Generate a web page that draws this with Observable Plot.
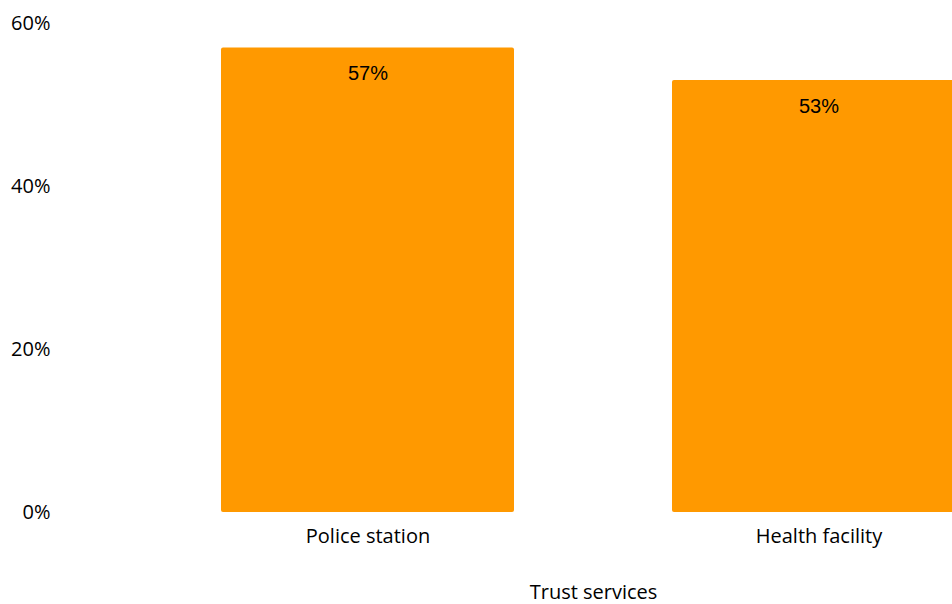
<!DOCTYPE html>
<html>
<head>
<meta charset="utf-8">
<script src="https://cdn.jsdelivr.net/npm/d3@7"></script>
<script src="https://cdn.jsdelivr.net/npm/@observablehq/plot@0.6"></script>
<style>
  html, body { margin: 0; padding: 0; background: #fff; overflow: hidden; width: 952px; height: 604px; }
  #chart { width: 952px; height: 604px; overflow: hidden; }
  #chart svg { max-width: none !important; width: 1124px; height: 604px; display: block; }
</style>
</head>
<body>
<div id="chart"></div>
<script>
const categories = ["Police station", "Health facility"];
const values = [57, 53];
const yTicks = [0, 20, 40, 60];
const xTitle = "Trust services";

const data = categories.map((c, i) => ({category: c, value: values[i]}));

const chart = Plot.plot({
  width: 1124,
  height: 604,
  marginLeft: 62,
  marginRight: 0,
  marginTop: 23,
  marginBottom: 92,
  style: {fontFamily: "'Open Sans', sans-serif", fontSize: "20px", color: "#000", background: "#fff", maxWidth: "none"},
  x: {domain: categories, padding: 0.35, label: null},
  y: {domain: [0, 60], label: null},
  marks: [
    Plot.axisY({ticks: yTicks, tickSize: 0, tickPadding: 12, tickFormat: d => d + "%", fontSize: 20, label: null}),
    Plot.axisX({tickSize: 0, tickPadding: 16, fontSize: 20, label: xTitle, labelAnchor: "center", labelOffset: 86, labelArrow: "none"}),
    Plot.barY(data, {x: "category", y: "value", fill: "#FF9900", rx: 2}),
    Plot.text(data, {x: "category", y: "value", text: d => d.value + "%", dy: 26, fontSize: 20, fontFamily: "'Liberation Sans', Arial, sans-serif", fill: "#000"})
  ]
});
document.getElementById("chart").appendChild(chart);
</script>
</body>
</html>
